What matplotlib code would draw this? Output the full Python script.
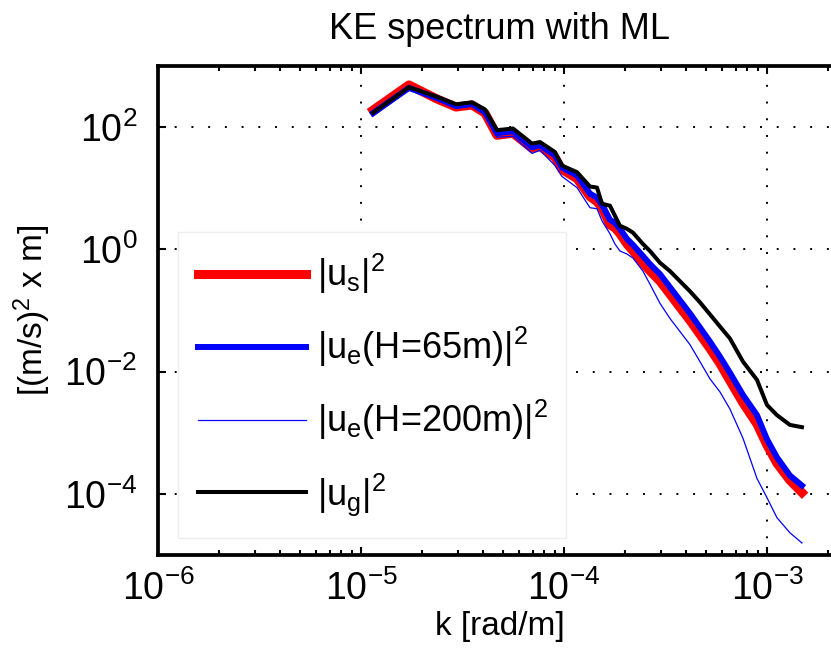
import numpy as np
import matplotlib
matplotlib.use("Agg")
import matplotlib.pyplot as plt
from matplotlib.ticker import LogLocator, NullLocator, NullFormatter

plt.rcParams['font.family'] = ['Liberation Sans', 'DejaVu Sans']
plt.rcParams['mathtext.fontset'] = 'custom'
plt.rcParams['mathtext.rm'] = 'Liberation Sans'
plt.rcParams['mathtext.it'] = 'Liberation Sans:italic'
plt.rcParams['mathtext.default'] = 'regular'

# wavenumber [rad/m]
k = [1.146e-5, 1.723e-5, 2.367e-5, 2.938e-5, 3.522e-5, 4.08e-5, 4.677e-5,
     5.609e-5, 6.958e-5, 7.617e-5, 9.03e-5, 9.774e-5, 1.159e-4, 1.343e-4,
     1.454e-4, 1.539e-4, 1.685e-4, 1.783e-4, 1.887e-4, 2.043e-4, 2.187e-4,
     2.449e-4, 2.652e-4, 2.971e-4, 3.328e-4, 3.727e-4, 4.175e-4, 4.677e-4,
     5.238e-4, 5.868e-4, 6.572e-4, 7.617e-4, 8.928e-4, 1.0e-3, 1.12e-3,
     1.298e-3, 1.487e-3]

# surface velocity spectrum
E_s = [188, 485, 286, 211, 228, 168, 73.0, 78.8, 44.7, 48.2, 31.7, 20.1, 14.3,
       7.25, 6.00, 4.78, 2.51, 2.24, 1.79, 1.22, 0.938, 0.595, 0.440, 0.301,
       0.184, 0.112, 0.0687, 0.0405, 0.0238, 0.0135, 0.00708, 0.00308,
       0.00139, 0.000628, 0.000318, 0.000167, 0.000106]

# Ekman velocity, H = 65 m
E_e65 = [168, 433, 297, 219, 236, 175, 78.8, 85.0, 46.4, 50.0, 34.3, 21.7, 16.1,
         8.12, 6.98, 5.35, 3.03, 2.71, 2.16, 1.48, 1.18, 0.776, 0.573, 0.393,
         0.240, 0.147, 0.0896, 0.0527, 0.0310, 0.0176, 0.00959, 0.00417,
         0.00195, 0.000787, 0.000398, 0.000201, 0.000138]

# Ekman velocity, H = 200 m
E_e200 = [150, 402, 275, 203, 219, 156, 67.7, 70.3, 36.9, 41.4, 23.4, 15.5, 10.2,
          4.78, 4.60, 2.92, 1.79, 1.22, 0.938, 0.837, 0.719, 0.440, 0.269, 0.131,
          0.0741, 0.0453, 0.0277, 0.0146, 0.00764, 0.00467, 0.00245, 0.000818,
          0.000180, 8.75e-5, 4.11e-5, 2.33e-5, 1.59e-5]

# geostrophic velocity spectrum
E_g = [170, 445, 311, 234, 252, 193, 88.3, 94.1, 53.3, 56.6, 38.8, 23.4, 18.2,
       10.6, 10.2, 5.56, 5.15, 3.53, 2.42, 2.16, 1.87, 1.22, 0.938, 0.602,
       0.440, 0.301, 0.206, 0.136, 0.0863, 0.0547, 0.0348, 0.0146, 0.00736,
       0.00286, 0.00195, 0.00135, 0.00124]

labels = ['|u$_s$|$^2$', '|u$_e$(H=65m)|$^2$', '|u$_e$(H=200m)|$^2$', '|u$_g$|$^2$']

fig = plt.figure(figsize=(8.31, 6.61), dpi=100)
ax = fig.add_axes([0.19013, 0.15991, 0.82310, 0.74070])

ax.loglog(k, E_s, color='#ff0000', lw=6.5, label=labels[0], solid_joinstyle='round')
ax.loglog(k, E_e65, color='#0000ff', lw=4.3, label=labels[1], solid_joinstyle='round')
ax.loglog(k, E_e200, color='#0000ff', lw=0.9, label=labels[2])
ax.loglog(k, E_g, color='black', lw=2.9, label=labels[3], solid_joinstyle='round')

ax.set_xlim(1e-6, 2.342e-3)
ax.set_ylim(1e-5, 1e3)

ax.xaxis.set_major_locator(LogLocator(base=10, numticks=20))
ax.xaxis.set_minor_locator(LogLocator(base=10, subs=np.arange(2, 10), numticks=20))
ax.xaxis.set_minor_formatter(NullFormatter())
ax.set_yticks([1e-4, 1e-2, 1e0, 1e2])
ax.yaxis.set_minor_locator(NullLocator())

ax.tick_params(which='both', direction='in', top=True, right=True, width=1.5)
ax.tick_params(which='major', length=6)
ax.tick_params(which='minor', length=3.5)
ax.tick_params(axis='x', labelsize=27, pad=11)
ax.tick_params(axis='y', labelsize=27, pad=15)

for sp in ax.spines.values():
    sp.set_linewidth(2.7)

ax.grid(True, which='major', color='k', linestyle=(0, (1, 7.6)), linewidth=1.4)

ax.set_title('KE spectrum with ML', fontsize=26, pad=19)
ax.set_xlabel('k [rad/m]', fontsize=24, labelpad=2)
ax.set_ylabel('[(m/s)$^2$ x m]', fontsize=24, labelpad=8)

leg = ax.legend(loc='center', bbox_to_anchor=(0.0292, 0.0353, 0.5673, 0.625),
                mode='expand', borderaxespad=0, fontsize=26, frameon=True,
                fancybox=False, framealpha=1, edgecolor='#eeeeee',
                handlelength=3.0, handletextpad=0.3, labelspacing=0.8,
                borderpad=0.55)
leg.get_frame().set_linewidth(1.0)

fig.savefig('out.png', dpi=100)
